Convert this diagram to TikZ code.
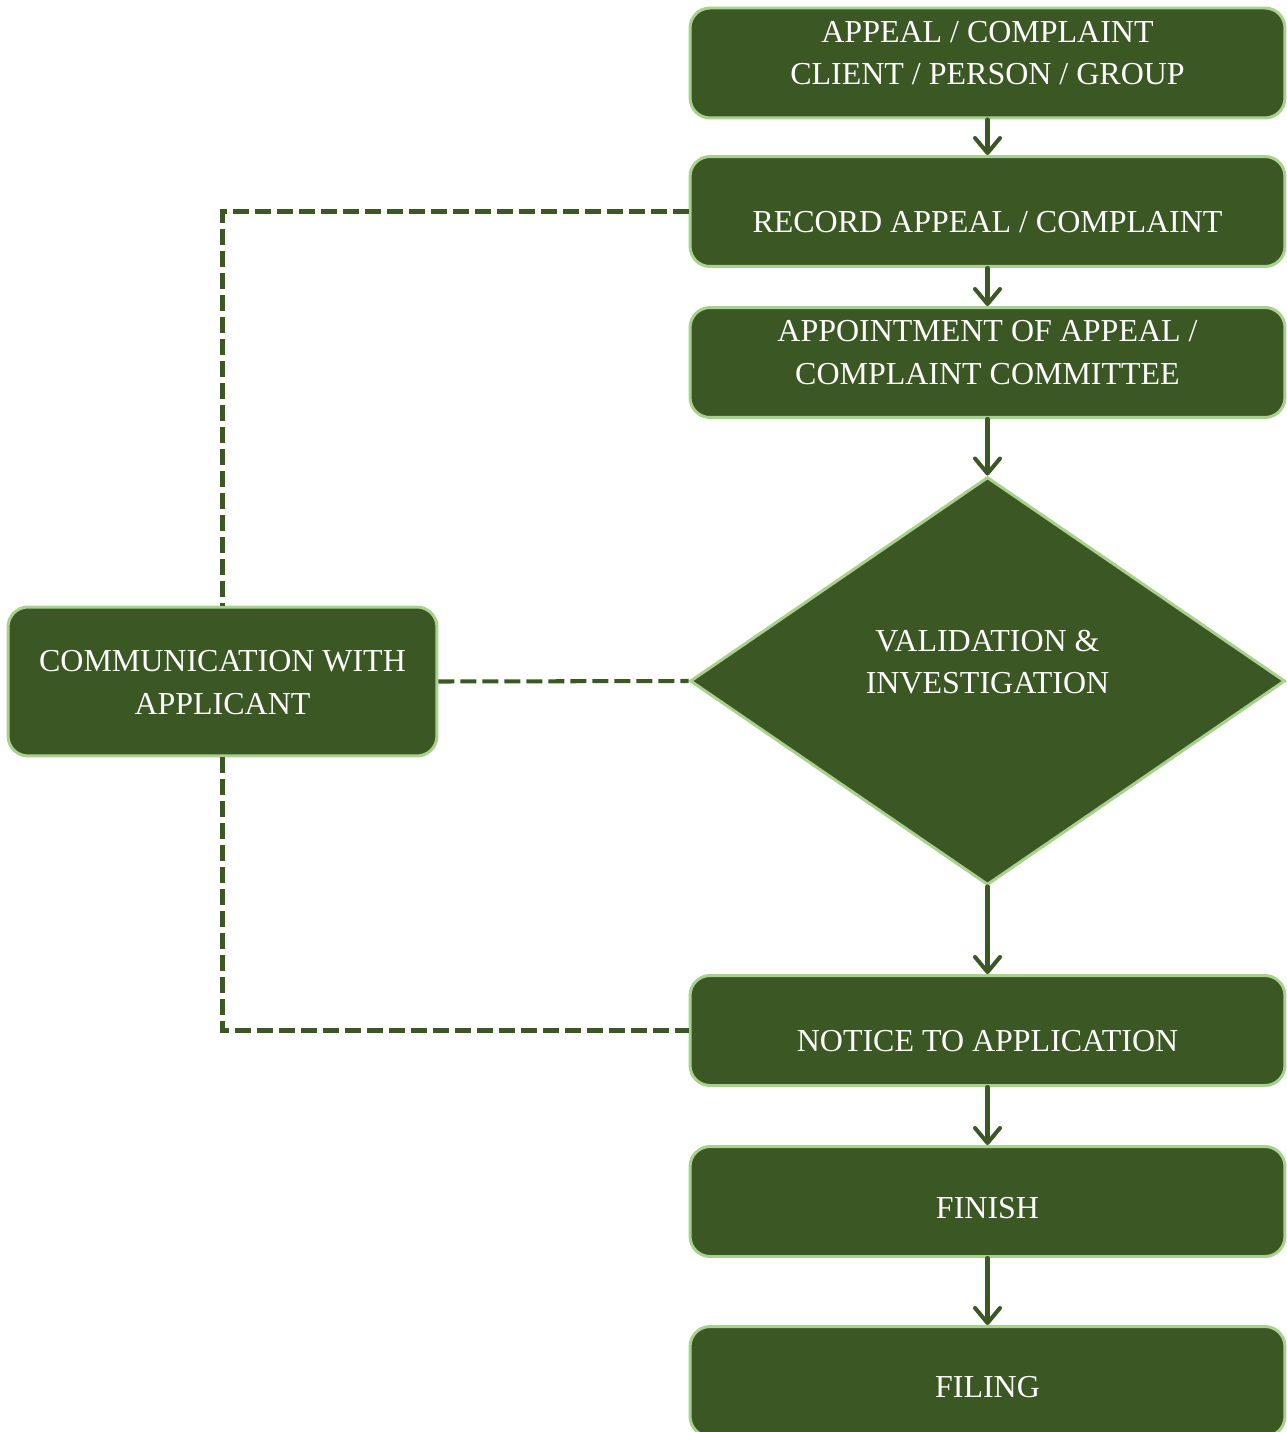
\documentclass[tikz,border=0pt]{standalone}
\usepackage{fontspec}
\setmainfont{Liberation Serif}
\usepackage{tikz}
\usetikzlibrary{positioning}
\usetikzlibrary{shapes.geometric}
\usetikzlibrary{arrows.meta}
\usepackage{xcolor}

\definecolor{leafdark}{HTML}{3B5723}
\definecolor{leaflight}{HTML}{A9D18E}

% text moved up or down inside its box
\newcommand{\liftlines}[2]{\raisebox{#1}[\height][\depth]{\begin{tabular}{@{}c@{}}#2\end{tabular}}}

\tikzset{
  stepbox/.style={draw=leaflight, fill=leafdark, line width=1.7pt, rounded corners=0.4cm,
    minimum width=11.9cm, minimum height=2.2cm, inner sep=0pt, text=white,
    font=\fontsize{18.2}{24}\selectfont},
  decision/.style={diamond, draw=leaflight, fill=leafdark, line width=1.7pt,
    minimum width=11.9cm, minimum height=8.16cm, inner sep=0pt, text=white,
    font=\fontsize{18.2}{24}\selectfont},
  flow/.style={draw=leafdark, line width=2.3pt, line cap=round,
    -{Straight Barb[length=0.3cm, width=0.5cm, line cap=round, line join=round]}},
  talk/.style={draw=leafdark, line width=2.3pt, dash pattern=on 0.32cm off 0.12cm}
}

\begin{document}
\begin{tikzpicture}[x=0.02cm, y=-0.02cm]

\useasboundingbox (0,0) rectangle (1286,1432);

% main column
\node[stepbox] (source) at (987.5,63) {\liftlines{0.16cm}{APPEAL / COMPLAINT\\CLIENT / PERSON / GROUP}};
\node[stepbox] (record) at (987.5,211.5) {\liftlines{-0.26cm}{RECORD APPEAL / COMPLAINT}};
\node[stepbox] (committee) at (987.5,362.5) {\liftlines{0.16cm}{APPOINTMENT OF APPEAL /\\COMPLAINT COMMITTEE}};
\node[decision] (check) at (987.5,681) {\liftlines{0.34cm}{VALIDATION \&\\INVESTIGATION}};
\node[stepbox] (notice) at (987.5,1030.5) {\liftlines{-0.26cm}{NOTICE TO APPLICATION}};
\node[stepbox] (finish) at (987.5,1201.5) {\liftlines{-0.18cm}{FINISH}};
\node[stepbox] (filing) at (987.5,1381.5) {\liftlines{-0.16cm}{FILING}};

% side box
\node[stepbox, minimum width=8.58cm, minimum height=2.98cm] (applicant) at (222.5,681.5)
  {\liftlines{-0.06cm}{COMMUNICATION WITH\\APPLICANT}};

\draw[flow] (source) -- (record);
\draw[flow] (record) -- (committee);
\draw[flow] (committee) -- (check);
\draw[flow] (check) -- (notice);
\draw[flow] (notice) -- (finish);
\draw[flow] (finish) -- (filing);

%dashed links to the applicant
\draw[talk] (record.west) -| (applicant.north);
\draw[talk] (applicant.east) -- (check.west);
\draw[talk] (applicant.south) |- (notice.west);

\end{tikzpicture}
\end{document}
